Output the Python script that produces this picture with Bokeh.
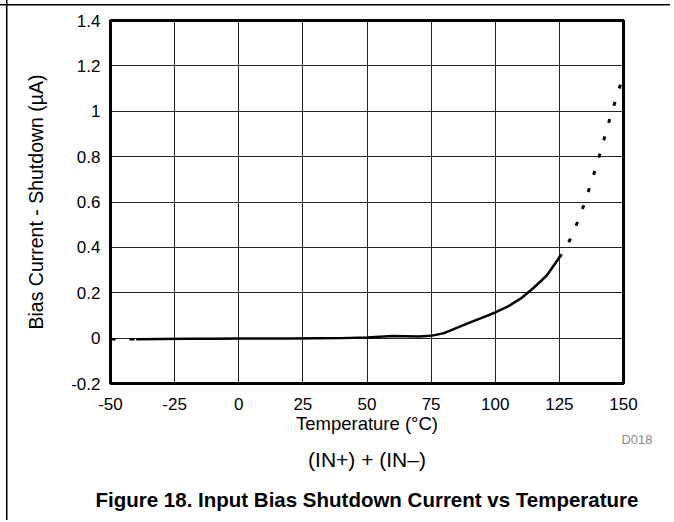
from bokeh.plotting import figure
from bokeh.models import FixedTicker, Range1d, Title
from bokeh.embed import file_html
from bokeh.resources import INLINE

# ---- data ----
x_ticks = [-50, -25, 0, 25, 50, 75, 100, 125, 150]
x_tick_labels = ["-50", "-25", "0", "25", "50", "75", "100", "125", "150"]
y_ticks = [-0.2, 0, 0.2, 0.4, 0.6, 0.8, 1, 1.2, 1.4]
y_tick_labels = ["-0.2", "0", "0.2", "0.4", "0.6", "0.8", "1", "1.2", "1.4"]

temp_left = [-50, -40]
bias_left = [-0.005, -0.005]

temp_solid = [-40, -30, -20, -10, 0, 10, 20, 30, 40, 50, 55, 60, 65, 70, 75,
              80, 85, 90, 95, 100, 105, 110, 115, 120, 125]
bias_solid = [-0.005, -0.004, -0.003, -0.003, -0.002, -0.002, -0.002, -0.001, 0.0,
              0.003, 0.006, 0.009, 0.008, 0.007, 0.010, 0.022, 0.045, 0.068, 0.09,
              0.113, 0.14, 0.175, 0.222, 0.275, 0.355]

temp_dot = [125, 130, 135, 140, 145, 150]
bias_dot = [0.355, 0.45, 0.6, 0.78, 0.98, 1.16]

x_title = "Temperature (\u00b0C)"
y_title = "Bias Current - Shutdown (\u00b5A)"
subtitle = "(IN+) + (IN\u2013)"
caption = "Figure 18. Input Bias Shutdown Current vs Temperature"
code = "D018"

FONT = "Liberation Sans"
W, H = 670, 520

p = figure(width=W, height=H, output_backend="svg", toolbar_location=None,
           x_range=Range1d(-50, 150), y_range=Range1d(-0.2, 1.4),
           min_border_left=110, min_border_right=47, min_border_top=20,
           min_border_bottom=137)

p.outline_line_color = "black"
p.outline_line_width = 3
p.background_fill_color = "white"
p.border_fill_color = None
p.styles = {
    "background": "linear-gradient(#000, #000) 0px 4px / 100% 1.5px no-repeat, "
                  "linear-gradient(#000, #000) 6px 0px / 1.5px 100% no-repeat, #fff"
}

p.xaxis.ticker = FixedTicker(ticks=x_ticks)
p.xaxis.major_label_overrides = {t: l for t, l in zip(x_ticks, x_tick_labels)}
p.yaxis.ticker = FixedTicker(ticks=y_ticks)
p.yaxis.major_label_overrides = {t: l for t, l in zip(y_ticks, y_tick_labels)}
for ax in (p.xaxis, p.yaxis):
    ax.axis_line_color = None
    ax.major_tick_line_color = None
    ax.minor_tick_line_color = None
    ax.major_tick_out = 0
    ax.major_tick_in = 0
    ax.minor_tick_out = 0
    ax.minor_tick_in = 0
    ax.major_label_text_font = FONT
    ax.major_label_text_font_size = "17px"
    ax.major_label_text_color = "black"
    ax.axis_label_text_font = FONT
    ax.axis_label_text_font_style = "normal"
    ax.axis_label_text_color = "black"
p.xaxis.major_label_standoff = 14
p.yaxis.major_label_standoff = 10
p.xaxis.axis_label = x_title
p.xaxis.axis_label_text_font_size = "18.5px"
p.xaxis.axis_label_standoff = 0
p.yaxis.axis_label = y_title
p.yaxis.axis_label_text_font_size = "19.5px"
p.yaxis.axis_label_standoff = 21

p.xgrid.ticker = FixedTicker(ticks=x_ticks)
p.ygrid.ticker = FixedTicker(ticks=y_ticks)
for g in (p.xgrid, p.ygrid):
    g.grid_line_color = "black"
    g.grid_line_width = 1
    g.grid_line_alpha = 0.85

p.line(temp_left, bias_left, line_color="black", line_width=2.5, line_dash="5 14")
p.line(temp_solid, bias_solid, line_color="black", line_width=2.5)
p.line(temp_dot, bias_dot, line_color="black", line_width=3, line_dash="4 14")

p.add_layout(Title(text=code, align="right", offset=-29, vertical_align="middle",
                   text_font=FONT, text_font_size="13px", text_font_style="normal",
                   text_color="#8c8c8c", standoff=-11), "below")
p.add_layout(Title(text=subtitle, align="center", vertical_align="top",
                   text_font=FONT, text_font_size="21px", text_font_style="normal",
                   text_color="black", standoff=10), "below")
p.add_layout(Title(text=caption, align="center", vertical_align="bottom",
                   text_font=FONT, text_font_size="20.5px", text_font_style="bold",
                   text_color="black", standoff=17), "below")

open("out.html", "w").write(file_html(p, INLINE))
